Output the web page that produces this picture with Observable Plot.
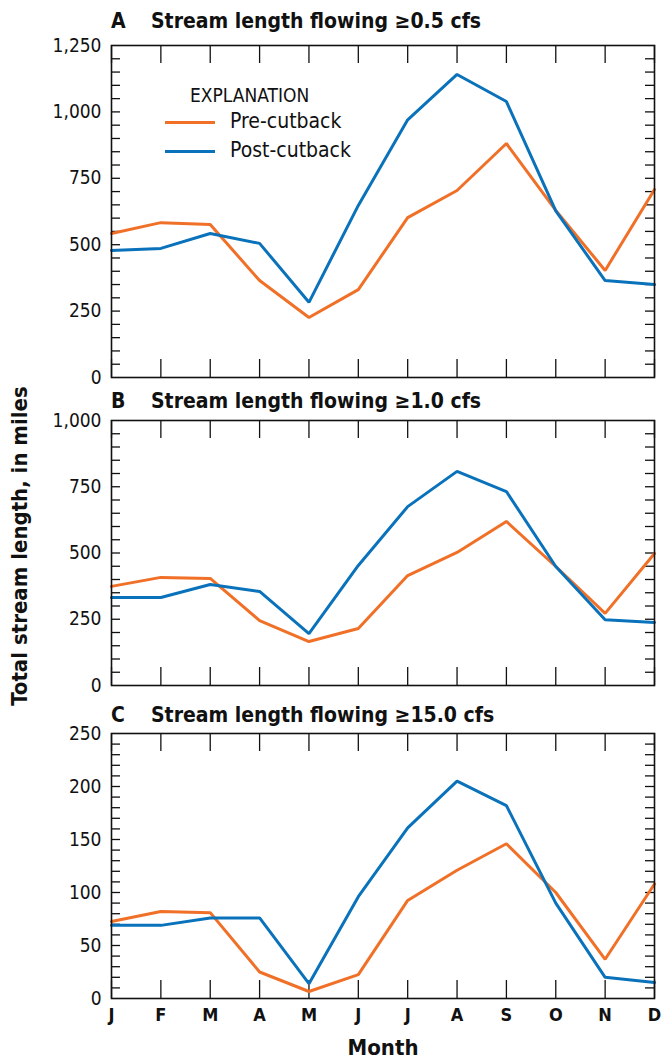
<!DOCTYPE html>
<html><head><meta charset="utf-8">
<script src="https://cdn.jsdelivr.net/npm/d3@7"></script>
<script src="https://cdn.jsdelivr.net/npm/@observablehq/plot@0.6"></script>
<style>
body{margin:0;background:#fff;}
#wrap{position:relative;width:669px;height:1063px;overflow:hidden;font-family:"Liberation Sans Narrow","DejaVu Sans Condensed","Arial Narrow",sans-serif;font-stretch:condensed;color:#111;}
.panel{position:absolute;left:0;}
.t{position:absolute;white-space:nowrap;line-height:1;}
.ttl{font-size:21px;font-weight:bold;}
.leg{position:absolute;left:165px;top:84px;}
.sw{position:absolute;width:50px;height:3px;left:0;}
</style></head><body><div id="wrap"></div>
<script>
const months = ["Jan","Feb","Mar","Apr","May","Jun","Jul","Aug","Sep","Oct","Nov","Dec"];
const monthLetters = ["J","F","M","A","M","J","J","A","S","O","N","D"];
const seriesNames = ["Pre-cutback","Post-cutback"];
const seriesColors = ["#f07028","#0a72ba"];

// Panel A: >=0.5 cfs
const preA  = [542, 583, 576, 365, 226, 331, 602, 704, 881, 629, 403, 708];
const postA = [478, 486, 542, 505, 283, 648, 970, 1141, 1039, 627, 365, 350];
// Panel B: >=1.0 cfs
const preB  = [374, 408, 404, 245, 166, 215, 415, 502, 619, 449, 272, 498];
const postB = [332, 332, 381, 355, 196, 453, 675, 808, 732, 449, 248, 238];
// Panel C: >=15.0 cfs
const preC  = [72.6, 82, 81, 25, 6.6, 22.6, 92.5, 121, 146, 100, 37, 108];
const postC = [69, 69, 76, 76, 14, 96, 161, 205, 182, 90, 20, 15];

const titles = ["Stream length flowing \u22650.5 cfs","Stream length flowing \u22651.0 cfs","Stream length flowing \u226515.0 cfs"];
const letters = ["A","B","C"];

const font = '"Liberation Sans Narrow","DejaVu Sans Condensed","Arial Narrow",sans-serif';
const wrap = document.getElementById("wrap");
const plotW = 543;

function panel({pre, post, yMax, major, step, top, marginTop, plotH, marginBottom, showX}) {
  const data = months.flatMap((m, i) => [
    {i, month: m, v: pre[i], s: seriesNames[0]},
    {i, month: m, v: post[i], s: seriesNames[1]}
  ]);
  const minor = d3.range(step, yMax, step);
  const idx = d3.range(months.length);
  const p = Plot.plot({
    width: 669, height: marginTop + plotH + marginBottom,
    marginLeft: 111, marginRight: 15, marginTop, marginBottom,
    x: {domain: [0, 11], axis: null},
    y: {domain: [0, yMax], axis: null},
    color: {domain: seriesNames, range: seriesColors},
    style: {fontFamily: font, fontSize: "19px", color: "#111", background: "transparent", overflow: "visible"},
    marks: [
      Plot.axisY({ticks: major, tickSize: 0, tickPadding: 10, tickFormat: d3.format(","), fontSize: 19, label: null}),
      showX ? Plot.axisX({ticks: idx, tickSize: 0, tickPadding: 10, tickFormat: i => monthLetters[i], fontSize: 18, fontWeight: "bold", label: null}) : null,
      Plot.ruleY(minor, {y: d => d, insetRight: plotW - 9, stroke: "#111", strokeWidth: 1.3}),
      Plot.ruleY(minor, {y: d => d, insetLeft: plotW - 9, stroke: "#111", strokeWidth: 1.3}),
      Plot.ruleX(idx, {x: d => d, insetBottom: plotH - 18, stroke: "#111", strokeWidth: 1.3}),
      Plot.ruleX(idx, {x: d => d, insetTop: plotH - 18, stroke: "#111", strokeWidth: 1.3}),
      Plot.line(data, {x: "i", y: "v", z: "s", stroke: "s", strokeWidth: 3, strokeLinejoin: "miter"}),
      Plot.frame({stroke: "#111", strokeWidth: 1.6})
    ]
  });
  p.classList.add("panel");
  p.style.top = top + "px";
  wrap.appendChild(p);
}

panel({pre: preA, post: postA, yMax: 1250, major: [0,250,500,750,1000,1250], step: 50, top: 0, marginTop: 45, plotH: 332, marginBottom: 13, showX: false});
panel({pre: preB, post: postB, yMax: 1000, major: [0,250,500,750,1000], step: 50, top: 390, marginTop: 30, plotH: 265, marginBottom: 13, showX: false});
panel({pre: preC, post: postC, yMax: 250, major: [0,50,100,150,200,250], step: 10, top: 698, marginTop: 35, plotH: 265, marginBottom: 65, showX: true});

function addText(txt, cls, left, top, extra) {
  const d = document.createElement("div");
  d.className = "t " + cls;
  d.textContent = txt;
  d.style.left = left + "px";
  d.style.top = top + "px";
  if (extra) Object.assign(d.style, extra);
  wrap.appendChild(d);
  return d;
}
const titleTops = [11, 391, 705];
titles.forEach((t, k) => {
  addText(letters[k], "ttl", 111, titleTops[k]);
  addText(t, "ttl", 151, titleTops[k]);
});
// Axis titles
addText("Total stream length, in miles", "ttl", 20, 546, {transform: "translate(-50%,-50%) rotate(-90deg)", fontSize: "22px"});
addText("Month", "ttl", 383, 1048, {transform: "translate(-50%,-50%)", fontSize: "22px"});

// Legend
const leg = document.createElement("div");
leg.className = "leg";
wrap.appendChild(leg);
const h = document.createElement("div");
h.className = "t"; h.textContent = "EXPLANATION";
h.style.left = "25px"; h.style.top = "2px"; h.style.fontSize = "19px";
leg.appendChild(h);
seriesNames.forEach((n, k) => {
  const y = 38 + k * 29;
  const sw = document.createElement("div");
  sw.className = "sw"; sw.style.top = (y - 1.5) + "px"; sw.style.background = seriesColors[k];
  leg.appendChild(sw);
  const tx = document.createElement("div");
  tx.className = "t"; tx.textContent = n;
  tx.style.left = "65px"; tx.style.top = (y - 11) + "px"; tx.style.fontSize = "21px";
  leg.appendChild(tx);
});
</script></body></html>
